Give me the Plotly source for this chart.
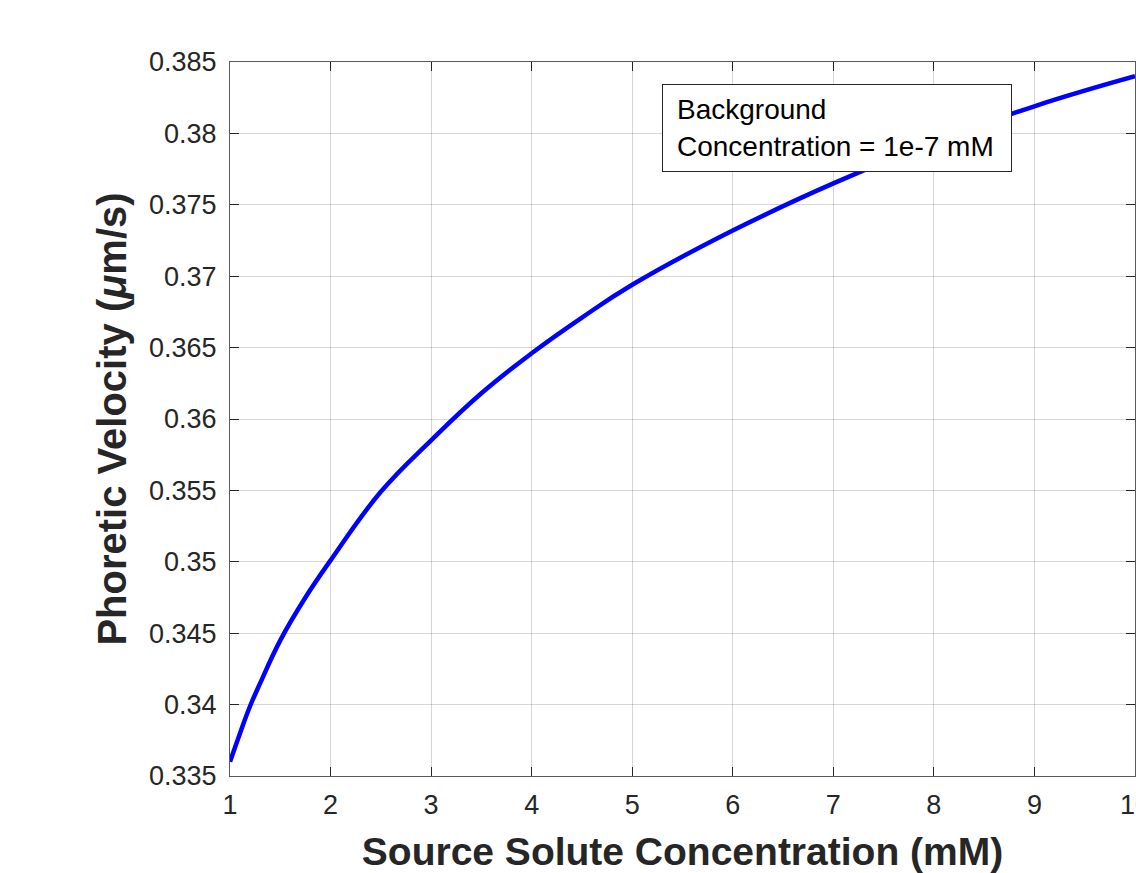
import plotly.graph_objects as go

# Data
conc_mM = [1.0, 1.1, 1.2, 1.3, 1.5, 1.75, 2.0, 2.5, 3.0, 3.5, 4.0, 4.5, 5.0,
           6.0, 7.0, 8.0, 9.0, 10.0]
velocity = [0.3360, 0.3380, 0.3399, 0.3415, 0.3445, 0.3475, 0.3501, 0.3549,
            0.3585, 0.3618, 0.3646, 0.3671, 0.3694, 0.3732, 0.3765, 0.3794,
            0.3819, 0.3840]

x_ticks = [1, 2, 3, 4, 5, 6, 7, 8, 9, 10]
y_tickvals = [0.335, 0.34, 0.345, 0.35, 0.355, 0.36, 0.365, 0.37, 0.375, 0.38, 0.385]
y_ticktext = ["0.335", "0.34", "0.345", "0.35", "0.355", "0.36", "0.365",
              "0.37", "0.375", "0.38", "0.385"]

FONT = "Liberation Sans, Arial, sans-serif"
AX = "#262626"

fig = go.Figure()
fig.add_trace(go.Scatter(
    x=conc_mM, y=velocity, mode="lines",
    line=dict(color="#0000FF", width=4.5, shape="spline", smoothing=1.2),
    showlegend=False,
))

axis_common = dict(
    showline=True, linecolor="#5a5a5a", linewidth=1, mirror="ticks",
    ticks="inside", ticklen=9, tickwidth=1, tickcolor=AX,
    showgrid=True, gridcolor="rgba(0,0,0,0.16)", gridwidth=1,
    zeroline=False, ticklabeloverflow="allow", automargin=False,
    tickfont=dict(family=FONT, size=27, color=AX),
)

fig.update_layout(
    width=1136, height=873,
    margin=dict(l=230, r=1, t=62, b=97),
    paper_bgcolor="white", plot_bgcolor="white",
    font=dict(family=FONT, color=AX),
    xaxis=dict(
        range=[1, 10], tickvals=x_ticks,
        title=dict(text="<b>Source Solute Concentration (mM)</b>",
                   font=dict(family=FONT, size=39, color=AX), standoff=18),
        ticklabelstandoff=5,
        **axis_common,
    ),
    yaxis=dict(
        range=[0.335, 0.385], tickvals=y_tickvals, ticktext=y_ticktext,
        title=dict(text="<b>Phoretic Velocity (<i>μ</i>m/s)</b>",
                   font=dict(family=FONT, size=40, color=AX), standoff=10),
        ticklabelstandoff=7,
        **axis_common,
    ),
    annotations=[dict(
        text="Background<br>Concentration = 1e-7 mM",
        xref="paper", yref="paper",
        x=(662 - 230) / 905, y=1 - (84 - 62) / 714,
        xanchor="left", yanchor="top",
        align="left", valign="middle",
        showarrow=False,
        width=320, height=58, borderpad=14,
        bordercolor=AX, borderwidth=1, bgcolor="white",
        font=dict(family=FONT, size=28, color="black"),
    )],
)

page_fix = (
    "document.body.style.margin='0px';"
    "document.documentElement.style.overflow='hidden';"
    "document.body.style.overflow='hidden';"
)

fig.write_html("out.html", post_script=page_fix,
               config={"displayModeBar": False})
